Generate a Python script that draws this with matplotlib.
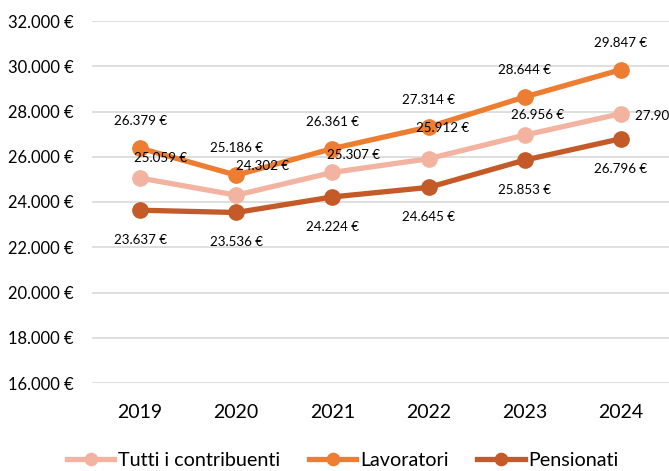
import matplotlib
matplotlib.use("Agg")
import matplotlib.pyplot as plt
from matplotlib.ticker import FuncFormatter

plt.rcParams['font.family'] = ['Lato', 'DejaVu Sans']

anni = ['2019', '2020', '2021', '2022', '2023', '2024']
tutti = [25059, 24302, 25307, 25912, 26956, 27904]
lavoratori = [26379, 25186, 26361, 27314, 28644, 29847]
pensionati = [23637, 23536, 24224, 24645, 25853, 26796]

# label offsets in pixels (dx, dy)
off_tutti = [(20, 20), (26, 29), (21, 17), (14, 31), (13, 20), (14, -2)]

def euro(v):
    return '{:,.0f} €'.format(v).replace(',', '.')

fig = plt.figure(figsize=(6.69, 4.71), dpi=100)
ax = fig.add_axes([92/669, 1-383/471, 1-92/669, (383-21)/471])

x = list(range(len(anni)))
c_tutti = '#F2B4A1'
c_lav = '#ED7D31'
c_pen = '#C45A28'

ax.plot(x, tutti, color=c_tutti, lw=3.8, marker='o', ms=11, label='Tutti i contribuenti', zorder=3)
ax.plot(x, lavoratori, color=c_lav, lw=3.8, marker='o', ms=11, label='Lavoratori', zorder=4)
ax.plot(x, pensionati, color=c_pen, lw=3.8, marker='o', ms=11, label='Pensionati', zorder=3)

for i in x:
    ax.annotate(euro(lavoratori[i]), (i, lavoratori[i]), xytext=(0, 27), textcoords='offset pixels',
                ha='center', va='center', fontsize=9.6, color='#000000', zorder=5)
    ax.annotate(euro(pensionati[i]), (i, pensionati[i]), xytext=(0, -30), textcoords='offset pixels',
                ha='center', va='center', fontsize=9.6, color='#000000', zorder=5)
    dx, dy = off_tutti[i]
    ha = 'left' if i == len(x) - 1 else 'center'
    ax.annotate(euro(tutti[i]), (i, tutti[i]), xytext=(dx, dy), textcoords='offset pixels',
                ha=ha, va='center', fontsize=9.6, color='#000000', zorder=5, annotation_clip=False)

ax.set_xlim(-0.5, 5.5)
ax.set_ylim(16000, 32000)
ax.set_yticks(range(16000, 32001, 2000))
ax.yaxis.set_major_formatter(FuncFormatter(lambda v, p: euro(v)))
ax.set_xticks(x)
ax.set_xticklabels(anni)
ax.grid(axis='y', color='#D9D9D9', lw=1.2)
ax.set_axisbelow(True)
for s in ax.spines.values():
    s.set_visible(False)
ax.tick_params(axis='both', length=0, colors='#000000')
ax.tick_params(axis='y', labelsize=11.9, pad=13)
ax.tick_params(axis='x', labelsize=14, pad=15)

fig.legend(loc='center', bbox_to_anchor=(343/669, 11/471), ncol=3, frameon=False,
           fontsize=14.2, handlelength=2.4, handletextpad=0.2, columnspacing=1.45,
           markerscale=0.8)

fig.savefig('out.png', dpi=100)
